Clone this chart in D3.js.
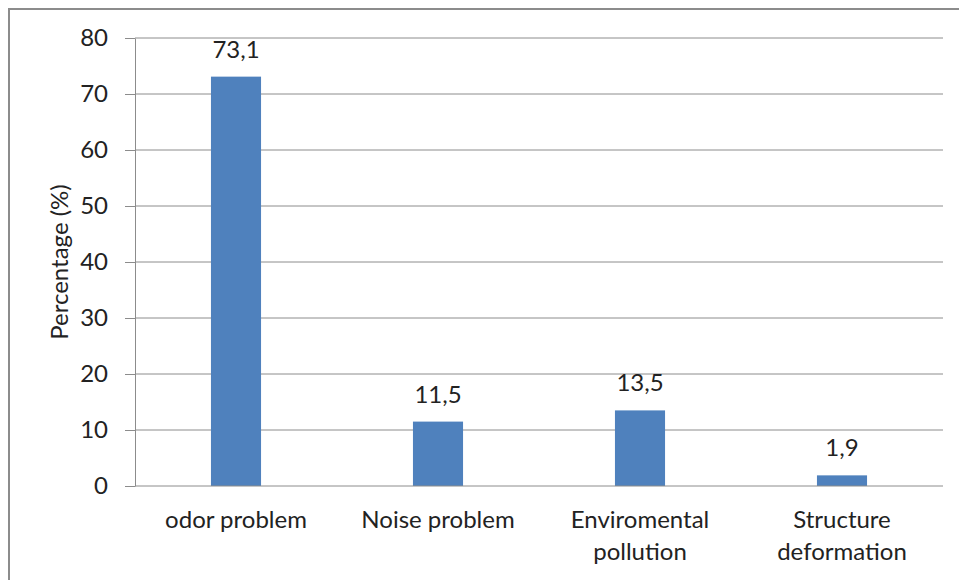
<!DOCTYPE html>
<html>
<head>
<meta charset="utf-8">
<script src="https://cdn.jsdelivr.net/npm/d3@7"></script>
<style>
  body { margin: 0; background: #fff; }
  text { font-family: Lato, "Open Sans", sans-serif; fill: #222; }
</style>
</head>
<body>
<svg id="chart" width="959" height="580"></svg>
<script>
// chart data
const categories = [['odor problem'], ['Noise problem'], ['Enviromental', 'pollution'], ['Structure', 'deformation']];
const values = [73.1, 11.5, 13.5, 1.9];
const yTicks = [0, 10, 20, 30, 40, 50, 60, 70, 80];

const margin = {top: 38, right: 16, bottom: 94, left: 135};
const width = 959 - margin.left - margin.right;
const height = 580 - margin.top - margin.bottom;
const fontSize = '24px';

const root = d3.select('#chart');

// outer frame (cropped at right and bottom)
root.append('rect')
    .attr('x', 9).attr('y', 9)
    .attr('width', 980).attr('height', 620)
    .attr('fill', 'none')
    .attr('stroke', '#8c8c8c')
    .attr('stroke-width', 2);

const svg = root.append('g')
    .attr('transform', `translate(${margin.left},${margin.top})`);

const x = d3.scaleBand()
    .domain(d3.range(categories.length))
    .range([0, width])
    .paddingInner(0.752)
    .paddingOuter(0.376);

const y = d3.scaleLinear()
    .domain([0, 80])
    .range([height, 0]);

// gridlines
svg.append('g')
    .selectAll('line')
    .data(yTicks.filter(d => d > 0))
    .enter().append('line')
    .attr('x1', 0).attr('x2', width)
    .attr('y1', d => y(d)).attr('y2', d => y(d))
    .attr('stroke', '#8c8c8c')
    .attr('stroke-width', 1);

// y axis
const yAxis = svg.append('g')
    .call(d3.axisLeft(y).tickValues(yTicks).tickSize(10).tickPadding(17).tickSizeOuter(0));
yAxis.select('.domain').attr('stroke', '#8c8c8c');
yAxis.selectAll('.tick line').attr('stroke', '#8c8c8c');
yAxis.selectAll('.tick text').style('font-size', fontSize).attr('fill', '#222');

// bars
svg.selectAll('.bar')
    .data(values)
    .enter().append('rect')
    .attr('class', 'bar')
    .attr('x', (d, i) => x(i))
    .attr('width', x.bandwidth())
    .attr('y', d => y(d))
    .attr('height', d => height - y(d))
    .attr('fill', '#4f81bd');

// value labels
svg.selectAll('.val')
    .data(values)
    .enter().append('text')
    .attr('class', 'val')
    .attr('x', (d, i) => x(i) + x.bandwidth() / 2)
    .attr('y', d => y(d) - 19)
    .attr('text-anchor', 'middle')
    .style('font-size', fontSize)
    .text(d => String(d).replace('.', ','));

// x axis line
svg.append('line')
    .attr('x1', 0).attr('x2', width)
    .attr('y1', height).attr('y2', height)
    .attr('stroke', '#8c8c8c');

// category labels
const cat = svg.selectAll('.cat')
    .data(categories)
    .enter().append('text')
    .attr('class', 'cat')
    .attr('text-anchor', 'middle')
    .attr('transform', (d, i) => `translate(${x(i) + x.bandwidth() / 2},${height + 42})`)
    .style('font-size', fontSize);
cat.selectAll('tspan')
    .data(d => d)
    .enter().append('tspan')
    .attr('x', 0)
    .attr('dy', (d, i) => i === 0 ? 0 : 32)
    .text(d => d);

// y axis title
svg.append('text')
    .attr('transform', `translate(${-67},${height / 2}) rotate(-90)`)
    .attr('text-anchor', 'middle')
    .style('font-size', fontSize)
    .text('Percentage (%)');
</script>
</body>
</html>
